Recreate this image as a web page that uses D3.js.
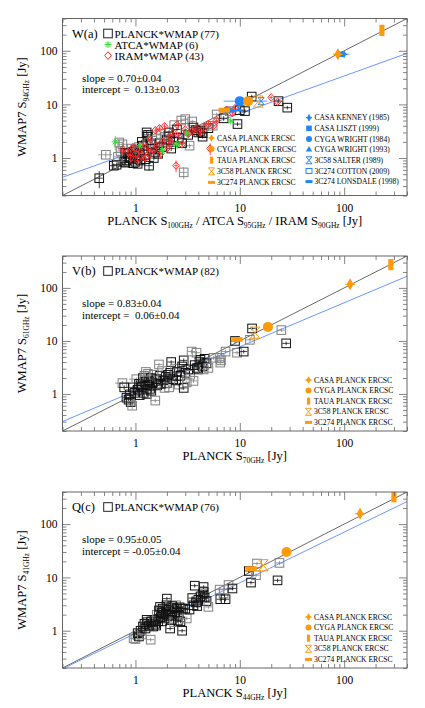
<!DOCTYPE html>
<html><head><meta charset="utf-8">
<script src="https://cdn.jsdelivr.net/npm/d3@7"></script>
<style>
body{margin:0;background:#fff}
text{font-family:"Liberation Serif","Times New Roman",serif;fill:#000}
</style>
</head><body>
<svg id="c" width="425" height="708"></svg>
<script>
// ---------------- DATA ----------------
const majorTicks = [1, 10, 100];
const majorTickLabels = ["1", "10", "100"];
const panelNames = ["W(a)", "V(b)", "Q(c)"];
const planckCounts = [77, 82, 76];
const slopes = [0.70, 0.83, 0.95];
const slopeErrs = [0.04, 0.04, 0.05];
const intercepts = [0.13, 0.06, -0.05];
const interceptErrs = [0.03, 0.04, 0.04];
const yLabelSubs = ["94GHz", "61GHz", "41GHz"];
const xLabelParts = [
  [["PLANCK S", false], ["100GHz", true], [" / ATCA S", false], ["95GHz", true], [" / IRAM S", false], ["90GHz", true], [" [Jy]", false]],
  [["PLANCK S", false], ["70GHz", true], [" [Jy]", false]],
  [["PLANCK S", false], ["44GHz", true], [" [Jy]", false]]
];

// [x, y, relErrX, relErrY, gray]
const planckW = [
  [0.45,0.42,0.08,0.35,0],[0.52,1.15,0.15,0.15,1],[0.62,0.72,0.08,0.1,0],[0.66,0.75,0.08,0.1,0],
  [0.70,1.95,0.1,0.15,1],[0.72,1.35,0.1,0.12,1],[0.75,1.8,0.1,0.12,1],[0.78,0.85,0.08,0.15,0],
  [0.80,0.82,0.08,0.1,0],[0.82,0.90,0.08,0.1,0],[0.85,1.2,0.08,0.1,0],[0.88,1.05,0.08,0.1,0],
  [0.92,1.5,0.08,0.1,1],[0.95,1.3,0.08,0.1,0],[1.00,0.85,0.08,0.1,0],[1.02,1.1,0.08,0.1,0],
  [1.05,0.78,0.08,0.15,0],[1.08,1.6,0.08,0.1,1],[1.10,1.25,0.08,0.1,0],[1.15,2.0,0.08,0.1,0],
  [1.20,1.4,0.08,0.1,0],[1.25,0.95,0.08,0.1,0],[1.28,3.0,0.08,0.08,0],[1.30,2.5,0.08,0.08,0],
  [1.32,2.7,0.08,0.08,0],[1.35,0.72,0.08,0.2,0],[1.40,1.8,0.08,0.1,0],[1.45,2.1,0.08,0.1,1],
  [1.55,1.3,0.08,0.1,0],[1.60,2.25,0.08,0.1,1],[1.70,1.9,0.08,0.1,0],[1.80,1.6,0.08,0.1,0],
  [1.90,2.5,0.08,0.1,1],[2.00,2.2,0.08,0.1,0],[2.05,2.6,0.08,0.1,1],[2.20,1.5,0.08,0.1,0],
  [2.35,4.1,0.08,0.08,1],[2.50,3.4,0.08,0.08,0],[2.75,5.0,0.08,0.08,1],[2.90,0.54,0.08,0.25,1],
  [3.0,5.3,0.08,0.08,1],[3.3,1.7,0.08,0.1,1],[3.5,4.8,0.08,0.08,1],[3.8,3.3,0.08,0.08,0],
  [4.0,3.0,0.08,0.08,0],[4.4,2.9,0.08,0.08,0],[4.4,2.5,0.08,0.08,0],[6.0,6.5,0.08,0.08,1],
  [9.5,4.3,0.08,0.08,0],[11.2,7.5,0.08,0.08,0],[13.0,14,0.08,0.08,0],[23.5,11.5,0.08,0.08,0],
  [28.5,8.7,0.08,0.08,0],[0.90,1.0,0.08,0.1,0],[0.95,0.8,0.08,0.1,0],[1.0,1.4,0.08,0.1,0],
  [1.12,0.9,0.08,0.1,0],[1.18,1.7,0.08,0.1,0],[1.22,1.15,0.08,0.1,0],[1.45,1.5,0.08,0.1,0],
  [1.5,1.0,0.08,0.1,0],[1.65,1.2,0.08,0.1,0],[1.75,2.8,0.08,0.1,1],[2.1,3.0,0.08,0.1,0],
  [2.3,2.0,0.08,0.1,0],[2.6,2.4,0.08,0.1,0],[2.8,1.9,0.08,0.1,0],[3.2,2.7,0.08,0.1,0],
  [3.6,3.7,0.08,0.1,0],[4.2,3.2,0.08,0.1,0],[5.0,3.6,0.08,0.1,0],[5.5,4.0,0.08,0.1,1],
  [7.0,5.5,0.08,0.1,0],[8.0,7.5,0.08,0.1,1],[10.0,7.8,0.08,0.1,0],[0.68,1.05,0.1,0.1,1],
  [0.80,1.25,0.08,0.1,0]
];
// [x, y, relErrY]
const iramW = [
  [0.85,1.3,0.15],[0.90,1.0,0.2],[0.95,1.6,0.15],[1.0,1.2,0.15],[1.05,0.9,0.25],[1.1,1.4,0.15],
  [1.15,1.1,0.2],[1.2,1.8,0.15],[1.25,1.0,0.2],[1.3,1.5,0.15],[1.35,1.2,0.15],[1.4,2.2,0.15],
  [1.5,1.4,0.15],[1.55,3.3,0.12],[1.6,1.7,0.15],[1.7,3.6,0.12],[1.75,1.2,0.2],[1.8,2.0,0.15],
  [1.9,3.9,0.12],[2.0,1.5,0.15],[2.1,2.5,0.15],[2.2,1.9,0.15],[2.3,3.0,0.12],[2.45,0.72,0.25],
  [2.5,4.2,0.1],[2.6,2.6,0.12],[2.8,1.8,0.15],[3.0,3.4,0.1],[3.2,2.8,0.12],[3.5,3.2,0.1],
  [3.8,3.6,0.1],[4.2,3.0,0.1],[4.5,3.7,0.1],[5.0,4.3,0.1],[5.2,1.5,0.25],[5.6,4.0,0.1],
  [6.0,5.0,0.1],[7.5,7.8,0.1],[8.5,7.0,0.1],[9.0,8.5,0.1],[20,13.5,0.08],[23,11.2,0.08],
  [0.75,1.45,0.2]
];
// [x, y, relErrY]
const atcaW = [[0.64,2.0,0.3],[1.1,1.7,0.15],[1.8,1.4,0.2],[2.5,1.8,0.2],[3.1,2.9,0.1],[8.2,4.9,0.08]];

const planckV = [
  [0.75,1.6,0.15,0.1,1],[0.78,1.33,0.1,0.1,0],[0.82,0.85,0.08,0.1,0],[0.86,0.78,0.08,0.12,0],
  [0.90,0.70,0.08,0.15,0],[0.93,0.60,0.08,0.15,1],[0.95,1.33,0.08,0.08,0],[0.98,1.05,0.08,0.08,0],
  [1.02,1.9,0.15,0.08,1],[1.05,1.2,0.08,0.08,0],[1.08,1.55,0.08,0.08,0],[1.10,0.95,0.08,0.08,0],
  [1.15,1.35,0.08,0.08,0],[1.18,2.0,0.08,0.08,0],[1.20,1.05,0.08,0.08,0],[1.22,2.2,0.1,0.08,1],
  [1.25,1.7,0.08,0.08,0],[1.28,1.0,0.08,0.08,0],[1.30,1.5,0.08,0.08,0],[1.32,2.4,0.1,0.08,1],
  [1.35,1.76,0.08,0.08,0],[1.38,1.25,0.08,0.08,0],[1.40,2.0,0.08,0.08,0],[1.45,1.6,0.08,0.08,0],
  [1.50,2.3,0.08,0.08,1],[1.55,0.75,0.1,0.08,1],[1.58,1.9,0.08,0.08,0],[1.62,1.45,0.08,0.08,0],
  [1.68,3.6,0.08,0.08,1],[1.72,2.2,0.08,0.08,0],[1.80,2.7,0.08,0.08,1],[1.85,1.8,0.08,0.08,0],
  [1.90,1.3,0.08,0.08,1],[1.95,2.1,0.08,0.08,0],[2.0,1.6,0.08,0.08,0],[2.1,1.33,0.08,0.08,1],
  [2.15,2.5,0.08,0.08,0],[2.2,4.0,0.08,0.08,0],[2.3,1.9,0.08,0.08,0],[2.4,3.0,0.08,0.08,1],
  [2.5,2.6,0.08,0.08,0],[2.6,1.5,0.08,0.08,1],[2.7,2.2,0.08,0.08,0],[2.8,3.3,0.08,0.08,0],
  [2.9,1.3,0.08,0.08,0],[2.9,4.3,0.08,0.08,0],[3.0,2.5,0.08,0.08,0],[3.1,1.65,0.08,0.08,1],
  [3.2,2.9,0.08,0.08,0],[3.35,2.3,0.08,0.08,1],[3.45,6.3,0.08,0.08,1],[3.6,1.76,0.08,0.08,1],
  [3.7,3.5,0.08,0.08,0],[3.85,6.0,0.08,0.08,1],[4.0,2.9,0.08,0.08,0],[4.1,4.0,0.08,0.08,0],
  [4.2,4.4,0.08,0.08,0],[4.4,3.3,0.08,0.08,0],[4.5,2.9,0.08,0.08,1],[4.6,4.6,0.08,0.08,0],
  [4.8,3.8,0.08,0.08,0],[5.0,3.1,0.08,0.08,1],[5.6,4.8,0.08,0.08,1],[6.4,4.8,0.08,0.08,1],
  [6.5,3.9,0.08,0.08,1],[6.6,4.3,0.08,0.08,1],[7.3,6.3,0.08,0.08,1],[9.0,10.0,0.08,0.08,0],
  [9.4,6.0,0.08,0.08,1],[10.9,6.3,0.08,0.08,0],[12.5,10.5,0.08,0.08,1],[13.1,17.2,0.08,0.08,0],
  [25.0,16,0.08,0.08,1],[27.8,9.0,0.08,0.08,0],[1.12,1.45,0.08,0.08,0],[1.42,1.15,0.08,0.08,0],
  [1.75,1.55,0.08,0.08,0],[2.05,2.3,0.08,0.08,0],[2.45,1.8,0.08,0.08,0],[0.88,0.98,0.08,0.08,0],
  [1.26,2.6,0.08,0.08,1],[3.9,3.1,0.08,0.08,0]
];

const planckQ = [
  [0.96,0.72,0.08,0.08,1],[1.0,0.70,0.08,0.08,1],[1.05,0.90,0.08,0.08,0],[1.08,0.78,0.08,0.08,0],
  [1.12,1.0,0.08,0.08,0],[1.15,0.85,0.08,0.08,1],[1.18,1.2,0.08,0.08,0],[1.22,1.35,0.08,0.08,0],
  [1.25,1.1,0.08,0.08,0],[1.30,1.45,0.08,0.08,0],[1.35,1.25,0.08,0.08,0],[1.40,0.68,0.08,0.08,1],
  [1.42,1.5,0.08,0.08,0],[1.48,1.2,0.08,0.08,0],[1.52,1.6,0.08,0.08,0],[1.55,1.35,0.08,0.08,0],
  [1.60,2.0,0.08,0.08,1],[1.65,1.5,0.08,0.08,0],[1.68,2.4,0.08,0.08,0],[1.72,2.8,0.08,0.08,0],
  [1.75,1.8,0.08,0.08,0],[1.78,2.2,0.08,0.08,0],[1.80,1.5,0.08,0.08,0],[1.82,2.6,0.08,0.08,0],
  [1.85,2.0,0.08,0.08,0],[1.90,1.7,0.08,0.08,0],[1.95,2.3,0.08,0.08,0],[2.0,4.0,0.08,0.08,0],
  [2.05,1.9,0.08,0.08,0],[2.10,2.5,0.08,0.08,0],[2.15,1.1,0.08,0.08,0],[2.20,1.6,0.08,0.08,0],
  [2.25,2.1,0.08,0.08,0],[2.30,2.7,0.08,0.08,0],[2.35,1.45,0.08,0.08,1],[2.40,2.2,0.08,0.08,0],
  [2.45,3.0,0.08,0.08,1],[2.50,2.6,0.08,0.08,0],[2.55,1.55,0.08,0.08,0],[2.60,2.0,0.08,0.08,0],
  [2.65,2.75,0.08,0.08,0],[2.70,1.5,0.08,0.08,0],[2.80,1.0,0.08,0.08,0],[2.85,2.6,0.08,0.08,0],
  [3.1,1.7,0.08,0.08,1],[3.3,2.5,0.08,0.08,0],[3.5,4.1,0.08,0.08,0],[3.6,3.0,0.08,0.08,0],
  [3.7,7.0,0.08,0.08,0],[3.8,3.4,0.08,0.08,0],[3.9,2.9,0.08,0.08,0],[4.0,3.8,0.08,0.08,0],
  [4.2,4.4,0.08,0.08,0],[4.4,4.8,0.08,0.08,0],[4.5,6.6,0.08,0.08,0],[4.5,5.3,0.08,0.08,0],
  [4.6,4.2,0.08,0.08,0],[4.8,3.6,0.08,0.08,0],[5.0,2.8,0.08,0.08,1],[6.4,5.9,0.08,0.08,1],
  [6.5,3.9,0.08,0.08,0],[7.0,5.0,0.08,0.08,1],[7.3,3.9,0.08,0.08,0],[7.8,7.2,0.08,0.08,1],
  [8.5,6.2,0.08,0.08,0],[12.2,13.2,0.08,0.08,0],[12.8,8.0,0.08,0.08,0],[14.3,11,0.08,0.08,1],
  [14.6,18.2,0.08,0.08,1],[23.0,8.8,0.08,0.08,0],[24.0,18.7,0.08,0.08,1],[1.28,1.6,0.08,0.08,0],
  [1.58,1.25,0.08,0.08,0],[1.98,3.0,0.08,0.08,0],[2.25,2.9,0.08,0.08,0],[3.0,2.6,0.08,0.08,0]
];

// special sources
const ercscNames = ["CASA PLANCK ERCSC", "CYGA PLANCK ERCSC", "TAUA PLANCK ERCSC", "3C58 PLANCK ERCSC", "3C274 PLANCK ERCSC"];
const ercscMarkers = ["plus", "circle", "vbar", "hglass", "hbar"];
const ercscW = [[87, 86], [12, 11.5], [230, 240], [15, 11.3], [7.1, 7.8]];
const ercscV = [[114, 117], [18.6, 18.4], [280, 275], [14, 14.3], [9.4, 10.7]];
const ercscQ = [[142, 157], [28, 30], [300, 326], [16.8, 16.9], [12.8, 14.6]];
const litNames = ["CASA KENNEY (1985)", "CASA LISZT (1999)", "CYGA WRIGHT (1984)", "CYGA WRIGHT (1993)", "3C58 SALTER (1989)", "3C274 COTTON (2009)", "3C274 LONSDALE (1998)"];
const litMarkers = ["plus", "square", "circle", "triangle", "hglass", "osquare", "hbar"];
// [x, y, relErrX]
const litW = [[100, 86, 0.12], [93, 86, 0.05], [10, 11.5, 0.3], [9.8, 8.0, 0.05], [16, 11.5, 0.15], [7.6, 7.8, 0.05], [8.6, 7.6, 0.05]];

// ---------------- LAYOUT ----------------
const ORANGE = "#ff9a0a", BLUE = "#1f86ff", RED = "#ff2d2d", GREEN = "#35e035", FIT = "#5a8cff";
const X0 = 62.5, X1 = 407;
const panelBoxes = [[18.5, 195.5], [256, 431], [492, 668]];
const svg = d3.select("#c");
const minorTicks = [];
[0.1, 1, 10, 100].forEach(d => { for (let k = 2; k <= 9; k++) { const v = d * k; if (v >= 0.2 && v <= 400) minorTicks.push(+v.toPrecision(3)); } });

const x = d3.scaleLog().domain([0.2, 400]).range([X0, X1]);

function marker(g, type, cx, cy, color, big) {
  const s = big ? 1.6 : 1;
  if (type === "plus") {
    g.append("path").attr("d", d3.symbol(d3.symbolDiamond, 16 * s * s)()).attr("transform", `translate(${cx},${cy})`).attr("fill", color);
    g.append("path").attr("d", `M${cx - 3 * s},${cy}H${cx + 3 * s}M${cx},${cy - 3 * s}V${cy + 3 * s}`).attr("stroke", color).attr("stroke-width", 1.3);
  } else if (type === "circle") {
    g.append("circle").attr("cx", cx).attr("cy", cy).attr("r", big ? 5 : 3).attr("fill", color);
  } else if (type === "square") {
    g.append("rect").attr("x", cx - 2.8 * s).attr("y", cy - 2.8 * s).attr("width", 5.6 * s).attr("height", 5.6 * s).attr("fill", color);
  } else if (type === "triangle") {
    g.append("path").attr("d", d3.symbol(d3.symbolTriangle, 18 * s * s)()).attr("transform", `translate(${cx},${cy})`).attr("fill", color);
  } else if (type === "vbar") {
    g.append("rect").attr("x", cx - 1.6 * s).attr("y", cy - 3.5 * s).attr("width", 3.2 * s).attr("height", 7 * s).attr("fill", color);
  } else if (type === "hbar") {
    g.append("rect").attr("x", cx - 3.5 * s).attr("y", cy - 1.5 * s).attr("width", 7 * s).attr("height", 3 * s).attr("fill", color);
  } else if (type === "hglass") {
    g.append("path").attr("d", `M${cx - 3 * s},${cy - 3.5 * s}H${cx + 3 * s}L${cx - 3 * s},${cy + 3.5 * s}H${cx + 3 * s}Z`).attr("fill", "none").attr("stroke", color).attr("stroke-width", 1);
  } else if (type === "osquare") {
    g.append("rect").attr("x", cx - 3 * s).attr("y", cy - 2.5 * s).attr("width", 6 * s).attr("height", 5 * s).attr("fill", "none").attr("stroke", color).attr("stroke-width", 1);
  }
}

function square(g, cx, cy, color) {
  g.append("rect").attr("x", cx - 4.3).attr("y", cy - 4.3).attr("width", 8.6).attr("height", 8.6)
    .attr("fill", "none").attr("stroke", color).attr("stroke-width", 1);
}
function diamond(g, cx, cy, color) {
  g.append("path").attr("d", `M${cx},${cy - 3.8}L${cx + 3.4},${cy}L${cx},${cy + 3.8}L${cx - 3.4},${cy}Z`)
    .attr("fill", "none").attr("stroke", color).attr("stroke-width", 1);
}
function asterisk(g, cx, cy, color) {
  const r = 3.5, q = 2.5;
  g.append("path").attr("d", `M${cx - r},${cy}H${cx + r}M${cx},${cy - r}V${cy + r}M${cx - q},${cy - q}L${cx + q},${cy + q}M${cx - q},${cy + q}L${cx + q},${cy - q}`)
    .attr("stroke", color).attr("stroke-width", 1);
}

function errbar(g, y, px, py, ex, ey, color) {
  g.append("path").attr("d",
    `M${x(px * (1 - ex))},${y(py)}H${x(px * (1 + ex))}M${x(px)},${y(py * (1 - ey))}V${y(py * (1 + ey))}`)
    .attr("stroke", color).attr("stroke-width", 0.8).attr("fill", "none");
}

function textSub(parent, parts, size, subSize) {
  parts.forEach(([t, sub], i) => {
    const ts = parent.append("tspan").text(t).attr("font-size", sub ? subSize : size);
    if (sub) ts.attr("dy", 3);
    else if (i > 0 && parts[i - 1][1]) ts.attr("dy", -3);
  });
}

function drawPanel(pi, planck, ercsc, extras) {
  const [top, bot] = panelBoxes[pi];
  const y = d3.scaleLog().domain([0.2, 400]).range([bot, top]);
  const g = svg.append("g");
  const clipId = "clip" + pi;
  svg.append("clipPath").attr("id", clipId).append("rect").attr("x", X0).attr("y", top).attr("width", X1 - X0).attr("height", bot - top);
  const pg = g.append("g").attr("clip-path", `url(#${clipId})`);

  const axCol = "#666";
  const mk = (axis, tr, size, vals, labels) => {
    const a = g.append("g").attr("transform", tr).call(axis.tickValues(vals).tickSize(size).tickPadding(0).tickFormat(labels ? ((d, i) => labels[i]) : ""));
    a.select(".domain").remove();
    a.selectAll("line").attr("stroke", axCol).attr("stroke-width", 0.8);
    return a;
  };
  const xb = mk(d3.axisBottom(x), `translate(0,${bot})`, -8, majorTicks, majorTickLabels);
  xb.selectAll("text").attr("y", 8).attr("font-size", 11.5).attr("fill", "#000");
  mk(d3.axisBottom(x), `translate(0,${bot})`, -4, minorTicks, null);
  mk(d3.axisTop(x), `translate(0,${top})`, -8, majorTicks, null);
  mk(d3.axisTop(x), `translate(0,${top})`, -4, minorTicks, null);
  const yl = mk(d3.axisLeft(y), `translate(${X0},0)`, -8, majorTicks, majorTickLabels);
  yl.selectAll("text").attr("x", -5).attr("font-size", 11.5).attr("fill", "#000");
  mk(d3.axisLeft(y), `translate(${X0},0)`, -4, minorTicks, null);
  mk(d3.axisRight(y), `translate(${X1},0)`, -8, majorTicks, null);
  mk(d3.axisRight(y), `translate(${X1},0)`, -4, minorTicks, null);
  g.selectAll(".tick text").attr("font-family", "Liberation Serif");
  g.append("rect").attr("x", X0).attr("y", top).attr("width", X1 - X0).attr("height", bot - top)
    .attr("fill", "none").attr("stroke", axCol).attr("stroke-width", 1);

  const dom = [0.2, 400];
  pg.append("line").attr("x1", x(dom[0])).attr("y1", y(dom[0])).attr("x2", x(dom[1])).attr("y2", y(dom[1]))
    .attr("stroke", "#444").attr("stroke-width", 0.8);
  const fy = v => Math.pow(10, intercepts[pi] + slopes[pi] * Math.log10(v));
  pg.append("line").attr("x1", x(dom[0])).attr("y1", y(fy(dom[0]))).attr("x2", x(dom[1])).attr("y2", y(fy(dom[1])))
    .attr("stroke", FIT).attr("stroke-width", 0.9);

  planck.forEach(([px, py, ex, ey, gr]) => {
    const c = gr ? "#808080" : "#111";
    errbar(pg, y, px, py, ex, ey, c);
    square(pg, x(px), y(py), c);
  });
  if (extras) extras(pg, y, g);

  ercsc.forEach(([px, py], i) => {
    if (ercscMarkers[i] === "vbar") errbar(pg, y, px, py, 0.01, 0.1, ORANGE);
    marker(pg, ercscMarkers[i], x(px), y(py), ORANGE, true);
  });

  g.append("text").attr("x", 72).attr("y", top + 19).attr("font-size", 12.5).text(panelNames[pi]);
  square(g, 108, top + 15, "#222");
  g.append("text").attr("x", 114.5).attr("y", top + 19).attr("font-size", 11).text(`PLANCK*WMAP (${planckCounts[pi]})`);
  const sy = pi === 0 ? top + 63 : top + 51;
  g.append("text").attr("x", 82).attr("y", sy).attr("font-size", 11).text(`slope = ${slopes[pi].toFixed(2)}±${slopeErrs[pi].toFixed(2)}`);
  const ic = intercepts[pi];
  g.append("text").attr("x", 82).attr("y", sy + 11.5).attr("font-size", 11)
    .text(`intercept = ${ic < 0 ? "" : "\u00a0"}${ic.toFixed(2)}±${interceptErrs[pi].toFixed(2)}`);

  const lx = pi === 0 ? 211.5 : 308.5;
  const ly0 = pi === 0 ? top + 119.5 : bot - 51;
  const lstep = pi === 0 ? 11.1 : 10.6;
  ercscNames.forEach((n, i) => {
    marker(g, ercscMarkers[i], lx, ly0 + i * lstep, ORANGE, false);
    g.append("text").attr("x", lx + 5.5).attr("y", ly0 + i * lstep + 2.6).attr("font-size", 7.6).text(n);
  });

  const xt = g.append("text").attr("x", (X0 + X1) / 2).attr("y", bot + 29).attr("text-anchor", "middle").attr("font-size", 12.5);
  textSub(xt, xLabelParts[pi], 12.5, 7.5);
  const yt = g.append("text").attr("transform", `translate(26,${(top + bot) / 2}) rotate(-90)`).attr("text-anchor", "middle").attr("font-size", 12.5);
  textSub(yt, [["WMAP7 S", false], [yLabelSubs[pi], true], [" [Jy]", false]], 12.5, 7.5);
  return {g, y};
}

// Panel W(a)
drawPanel(0, planckW, ercscW, (pg, y, g) => {
  iramW.forEach(([px, py, ey]) => { errbar(pg, y, px, py, 0.04, ey, RED); diamond(pg, x(px), y(py), RED); });
  atcaW.forEach(([px, py, ey]) => { errbar(pg, y, px, py, 0.03, ey, GREEN); asterisk(pg, x(px), y(py), GREEN); });
  litW.forEach(([px, py, ex], i) => {
    errbar(pg, y, px, py, ex, 0.02, BLUE);
    marker(pg, litMarkers[i], x(px), y(py), BLUE, litMarkers[i] === "circle");
  });
  asterisk(g, 108, 18.5 + 26, GREEN);
  g.append("text").attr("x", 114.5).attr("y", 18.5 + 30).attr("font-size", 11).text("ATCA*WMAP (6)");
  diamond(g, 108, 18.5 + 37, RED);
  g.append("text").attr("x", 114.5).attr("y", 18.5 + 41).attr("font-size", 11).text("IRAM*WMAP (43)");
  litNames.forEach((n, i) => {
    const ly = 117.7 + i * 10.65;
    marker(g, litMarkers[i], 309, ly, BLUE, false);
    g.append("text").attr("x", 314.5).attr("y", ly + 2.6).attr("font-size", 7.6).text(n);
  });
});
drawPanel(1, planckV, ercscV, null);
drawPanel(2, planckQ, ercscQ, null);
</script>
</body></html>
